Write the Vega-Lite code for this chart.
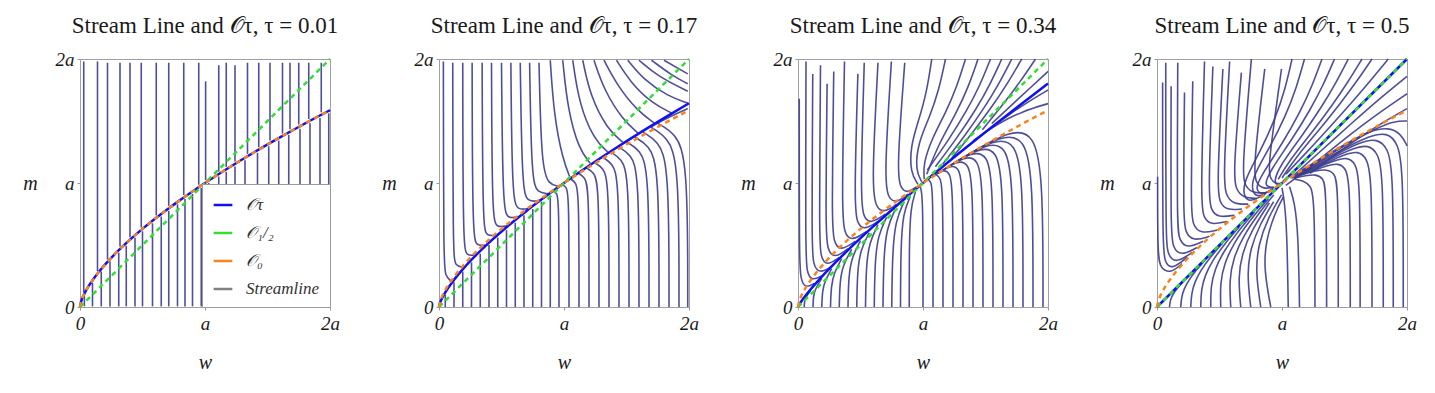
{
"$schema":"https://vega.github.io/schema/vega-lite/v6.json",
"background":"white",
"padding":{"left":22,"top":14,"right":5,"bottom":5},
"bounds":"flush",
"spacing":109,
"config":{
 "view":{"stroke":"#a0a0a0","strokeWidth":1},
 "axis":{"grid":false,"domain":false,"tickColor":"#999","tickSize":3,"labelFont":"Liberation Serif","labelFontSize":19,"labelFontStyle":"italic","labelColor":"#1a1a1a","titleFont":"Liberation Serif","titleFontSize":20,"titleFontStyle":"italic","titleFontWeight":"normal","titleColor":"#1a1a1a"},
 "title":{"font":"Liberation Serif","fontSize":23,"fontWeight":"normal","color":"#1a1a1a","offset":12}
},
"datasets":{
 "o0":[{"w":[0,0.005,0.01,0.02,0.04,0.07,0.1,0.15,0.2,0.3,0.4,0.5,0.6,0.7,0.8,0.9,1,1.2,1.4,1.6,1.8,2],"m":[0,0.029,0.046,0.074,0.117,0.17,0.215,0.282,0.342,0.448,0.543,0.63,0.711,0.788,0.862,0.932,1,1.129,1.252,1.368,1.48,1.587]}],
 "t2":[{"w":[0,0.005,0.01,0.02,0.04,0.07,0.1,0.15,0.2,0.3,0.4,0.5,0.6,0.7,0.8,0.9,1,1.2,1.4,1.6,1.8,2],"m":[0,0.0225,0.037,0.061,0.1,0.149,0.192,0.257,0.316,0.422,0.519,0.609,0.694,0.775,0.852,0.927,1,1.139,1.272,1.4,1.523,1.643]}],
 "t3":[{"w":[0,0.005,0.01,0.02,0.04,0.07,0.1,0.15,0.2,0.3,0.4,0.5,0.6,0.7,0.8,0.9,1,1.2,1.4,1.6,1.8,2],"m":[0,0.011,0.02,0.036,0.065,0.104,0.141,0.199,0.255,0.359,0.459,0.555,0.648,0.738,0.827,0.914,1,1.168,1.331,1.491,1.648,1.802]}],
 "dg":[{"w":[0,2],"m":[0,2]}],
 "r1":[
  {"w":0.03,"a":1.98,"b":0.117},{"w":0.14,"a":1.98,"b":0.29},{"w":0.22,"a":1.97,"b":0.384},{"w":0.32,"a":1.97,"b":0.488},
  {"w":0.4,"a":1.97,"b":0.563},{"w":0.49,"a":1.97,"b":0.641},{"w":0.61,"a":1.97,"b":0.739},{"w":0.71,"a":1.97,"b":0.816},
  {"w":0.83,"a":1.97,"b":0.903},{"w":0.95,"a":1.97,"b":0.986},{"w":1.005,"a":1.82,"b":1.023},{"w":1.11,"a":1.95,"b":1.092},
  {"w":1.17,"a":1.97,"b":1.13},{"w":1.24,"a":1.95,"b":1.174},{"w":1.34,"a":1.97,"b":1.235},{"w":1.43,"a":1.97,"b":1.289},
  {"w":1.52,"a":1.97,"b":1.342},{"w":1.62,"a":1.97,"b":1.399},{"w":1.68,"a":1.97,"b":1.433},{"w":1.75,"a":1.97,"b":1.472},
  {"w":1.83,"a":1.97,"b":1.516},{"w":1.93,"a":1.97,"b":1.57},
  {"w":0.035,"a":0.005,"b":0.087},{"w":0.1,"a":0.005,"b":0.195},{"w":0.17,"a":0.005,"b":0.287},{"w":0.24,"a":0.005,"b":0.366},
  {"w":0.31,"a":0.005,"b":0.438},{"w":0.37,"a":0.005,"b":0.495},{"w":0.44,"a":0.005,"b":0.559},{"w":0.5,"a":0.005,"b":0.61},
  {"w":0.58,"a":0.005,"b":0.675},{"w":0.65,"a":0.005,"b":0.73},{"w":0.71,"a":0.005,"b":0.776},{"w":0.78,"a":0.005,"b":0.827},
  {"w":0.84,"a":0.005,"b":0.87},{"w":0.9,"a":0.005,"b":0.912},{"w":0.97,"a":0.005,"b":0.96},{"w":1.03,"a":0.005,"b":1.0},
  {"w":1.11,"a":0.005,"b":1.052},{"w":1.17,"a":0.005,"b":1.09},{"w":1.24,"a":0.005,"b":1.134},{"w":1.32,"a":0.005,"b":1.183},
  {"w":1.42,"a":0.005,"b":1.243},{"w":1.51,"a":0.005,"b":1.296},{"w":1.59,"a":0.005,"b":1.342},{"w":1.67,"a":0.005,"b":1.388},
  {"w":1.76,"a":0.005,"b":1.438},{"w":1.84,"a":0.005,"b":1.482},{"w":1.92,"a":0.005,"b":1.525},{"w":1.99,"a":0.005,"b":1.562}
 ],
 "s2":[
  {"s":1,"w":[0.035,0.037,0.05,0.095],"m":[1.98,0.36,0.25,0.21]},
  {"s":2,"w":[0.11,0.112,0.13,0.2],"m":[1.97,0.42,0.33,0.32]},
  {"s":3,"w":[0.19,0.192,0.22,0.29],"m":[1.97,0.5,0.41,0.42]},
  {"s":4,"w":[0.265,0.268,0.3,0.37],"m":[1.97,0.58,0.49,0.5]},
  {"s":5,"w":[0.345,0.35,0.38,0.46],"m":[1.97,0.65,0.57,0.58]},
  {"s":6,"w":[0.42,0.425,0.46,0.545],"m":[1.97,0.72,0.64,0.655]},
  {"s":7,"w":[0.5,0.51,0.55,0.635],"m":[1.97,0.8,0.71,0.73]},
  {"s":8,"w":[0.575,0.585,0.63,0.715],"m":[1.97,0.87,0.78,0.795]},
  {"s":9,"w":[0.65,0.665,0.71,0.79],"m":[1.97,0.94,0.85,0.855]},
  {"s":10,"w":[0.725,0.74,0.79,0.87],"m":[1.97,1.02,0.92,0.915]},
  {"s":11,"w":[0.8,0.82,0.88,0.95],"m":[1.97,1.12,0.99,0.975]},
  {"s":12,"w":[0.89,0.92,0.99,1.05],"m":[1.99,1.54,1.19,1.04]},
  {"s":13,"w":[0.99,1.03,1.12,1.21],"m":[1.99,1.59,1.27,1.16]},
  {"s":14,"w":[1.07,1.12,1.24,1.35],"m":[1.99,1.64,1.35,1.25]},
  {"s":15,"w":[1.15,1.21,1.35,1.47],"m":[1.99,1.7,1.43,1.33]},
  {"s":16,"w":[1.24,1.32,1.47,1.59],"m":[1.99,1.75,1.51,1.405]},
  {"s":17,"w":[1.32,1.43,1.59,1.72],"m":[1.99,1.78,1.58,1.485]},
  {"s":18,"w":[1.42,1.54,1.71,1.86],"m":[1.99,1.8,1.64,1.565]},
  {"s":19,"w":[1.51,1.64,1.83,1.99],"m":[1.99,1.83,1.7,1.645]},
  {"s":20,"w":[1.6,1.75,1.99],"m":[1.99,1.86,1.74]},
  {"s":21,"w":[1.7,1.86,1.99],"m":[1.99,1.87,1.8]},
  {"s":22,"w":[1.8,1.99],"m":[1.99,1.88]},
  {"s":23,"w":[1.99,1.9,1.8,1.7],"m":[1.6,1.56,1.51,1.455]},
  {"s":24,"w":[0.05,0.05],"m":[0,0.1]},
  {"s":25,"w":[0.12,0.12],"m":[0,0.2]},
  {"s":26,"w":[0.19,0.19],"m":[0,0.285]},
  {"s":27,"w":[0.26,0.26],"m":[0,0.36]},
  {"s":28,"w":[0.33,0.33],"m":[0,0.43]},
  {"s":29,"w":[0.4,0.4],"m":[0,0.5]},
  {"s":30,"w":[0.47,0.47],"m":[0,0.56]},
  {"s":31,"w":[0.54,0.54],"m":[0,0.62]},
  {"s":32,"w":[0.61,0.61],"m":[0,0.68]},
  {"s":33,"w":[0.68,0.68],"m":[0,0.74]},
  {"s":34,"w":[0.75,0.75],"m":[0,0.79]},
  {"s":35,"w":[0.82,0.82],"m":[0,0.85]},
  {"s":36,"w":[0.89,0.89],"m":[0,0.9]},
  {"s":37,"w":[0.96,0.96,0.94,0.92],"m":[0,0.87,0.92,0.93]},
  {"s":38,"w":[1.04,1.04,1.017,0.992],"m":[0,0.915,0.966,0.984]},
  {"s":39,"w":[1.12,1.12,1.09,1.056],"m":[0,0.943,1.007,1.03]},
  {"s":40,"w":[1.2,1.2,1.164,1.12],"m":[0,0.969,1.047,1.075]},
  {"s":41,"w":[1.28,1.28,1.238,1.184],"m":[0,0.995,1.086,1.118]},
  {"s":42,"w":[1.36,1.36,1.311,1.248],"m":[0,1.02,1.124,1.162]},
  {"s":43,"w":[1.44,1.44,1.385,1.312],"m":[0,1.044,1.16,1.205]},
  {"s":44,"w":[1.52,1.52,1.458,1.376],"m":[0,1.068,1.197,1.247]},
  {"s":45,"w":[1.6,1.6,1.532,1.44],"m":[0,1.09,1.233,1.288]},
  {"s":46,"w":[1.68,1.68,1.606,1.504],"m":[0,1.112,1.269,1.329]},
  {"s":47,"w":[1.76,1.76,1.679,1.568],"m":[0,1.133,1.303,1.37]},
  {"s":48,"w":[1.84,1.84,1.753,1.632],"m":[0,1.153,1.337,1.41]},
  {"s":49,"w":[1.92,1.92,1.826,1.696],"m":[0,1.173,1.37,1.45]},
  {"s":50,"w":[1.99,1.99,1.891,1.752],"m":[0,1.19,1.4,1.48]}
 ],
 "s3":[
  {"s":1,"w":[0.01,0.01,0.02,0.06,0.13],"m":[1.68,0.4,0.22,0.15,0.19]},
  {"s":2,"w":[0.064,0.06,0.07,0.11,0.19],"m":[1.98,0.45,0.28,0.21,0.25]},
  {"s":3,"w":[0.118,0.11,0.12,0.17,0.26],"m":[1.88,0.52,0.34,0.27,0.32]},
  {"s":4,"w":[0.18,0.17,0.18,0.23,0.33],"m":[1.95,0.58,0.4,0.33,0.4]},
  {"s":5,"w":[0.233,0.22,0.235,0.29,0.4],"m":[1.8,0.64,0.46,0.39,0.47]},
  {"s":6,"w":[0.286,0.27,0.285,0.34,0.46],"m":[1.9,0.7,0.52,0.45,0.53]},
  {"s":7,"w":[0.372,0.35,0.37,0.43,0.55],"m":[1.98,0.78,0.59,0.53,0.61]},
  {"s":8,"w":[0.479,0.45,0.47,0.53,0.64],"m":[1.88,0.86,0.67,0.62,0.69]},
  {"s":9,"w":[0.53,0.5,0.52,0.58,0.7],"m":[1.97,0.92,0.72,0.67,0.75]},
  {"s":10,"w":[0.64,0.59,0.62,0.69,0.79],"m":[1.97,1.0,0.8,0.76,0.83]},
  {"s":11,"w":[0.747,0.69,0.72,0.79,0.88],"m":[1.98,1.05,0.87,0.84,0.91]},
  {"s":12,"w":[0.854,0.79,0.82,0.88,0.95],"m":[1.97,1.1,0.95,0.92,0.97]},
  {"s":13,"w":[1.07,1.031,0.966,0.9,0.9,0.96],"m":[2.0,1.739,1.505,1.3,1.08,0.99]},
  {"s":14,"w":[1.18,1.128,1.052,0.959,0.94,0.99],"m":[2.0,1.752,1.528,1.321,1.1,1.01]},
  {"s":15,"w":[1.34,1.269,1.179,1.075,1.0,1.01],"m":[2.0,1.771,1.561,1.366,1.15,1.03]},
  {"s":16,"w":[1.44,1.364,1.27,1.125,1.03],"m":[2.0,1.776,1.57,1.315,1.07]},
  {"s":17,"w":[1.54,1.455,1.353,1.201,1.035],"m":[2.0,1.786,1.587,1.339,1.105]},
  {"s":18,"w":[1.63,1.536,1.429,1.27,1.099],"m":[2.0,1.794,1.601,1.36,1.131]},
  {"s":19,"w":[1.71,1.609,1.496,1.333,1.158],"m":[2.0,1.801,1.614,1.378,1.153]},
  {"s":20,"w":[1.79,1.681,1.562,1.392,1.23],"m":[2.0,1.81,1.629,1.399,1.2]},
  {"s":21,"w":[1.9,1.78,1.653,1.475],"m":[2.0,1.82,1.648,1.43]},
  {"s":22,"w":[2.0,1.85,1.7,1.55],"m":[1.9,1.76,1.62,1.48]},
  {"s":23,"w":[2.0,1.85,1.7,1.55,1.4],"m":[1.75,1.66,1.56,1.45,1.33]},
  {"s":24,"w":[2.0,1.8,1.6,1.4],"m":[1.64,1.58,1.48,1.34]},
  {"s":25,"w":[1.0,1.0,0.985,0.975],"m":[0,0.85,0.95,0.98]},
  {"s":26,"w":[1.08,1.08,1.065,1.039],"m":[0,0.917,1.009,1.031]},
  {"s":27,"w":[1.16,1.16,1.14,1.098],"m":[0,0.932,1.048,1.069]},
  {"s":28,"w":[1.24,1.24,1.216,1.158,1.086],"m":[0,0.946,1.087,1.108,1.057]},
  {"s":29,"w":[1.32,1.32,1.291,1.217,1.115],"m":[0,0.959,1.125,1.145,1.075]},
  {"s":30,"w":[1.4,1.4,1.366,1.276,1.144],"m":[0,0.972,1.161,1.181,1.094]},
  {"s":31,"w":[1.48,1.48,1.441,1.335,1.173],"m":[0,0.983,1.197,1.217,1.112]},
  {"s":32,"w":[1.56,1.56,1.516,1.394,1.202],"m":[0,0.993,1.232,1.253,1.131]},
  {"s":33,"w":[1.64,1.64,1.592,1.454,1.23],"m":[0,1.002,1.266,1.288,1.148]},
  {"s":34,"w":[1.72,1.72,1.667,1.513,1.259],"m":[0,1.011,1.3,1.323,1.166]},
  {"s":35,"w":[1.8,1.8,1.742,1.572,1.288],"m":[0,1.02,1.333,1.357,1.184]},
  {"s":36,"w":[1.88,1.88,1.817,1.631,1.317],"m":[0,1.027,1.365,1.391,1.201]},
  {"s":37,"w":[1.96,1.96,1.892,1.71,1.346],"m":[0,1.034,1.396,1.435,1.219]},
  {"s":38,"w":[0.05,0.052,0.065,0.1],"m":[0,0.05,0.085,0.13]},
  {"s":39,"w":[0.12,0.123,0.14,0.19],"m":[0,0.09,0.15,0.23]},
  {"s":40,"w":[0.19,0.195,0.215,0.27],"m":[0,0.13,0.21,0.31]},
  {"s":41,"w":[0.26,0.265,0.29,0.35],"m":[0,0.17,0.28,0.39]},
  {"s":42,"w":[0.33,0.335,0.36,0.43],"m":[0,0.21,0.34,0.465]},
  {"s":43,"w":[0.4,0.405,0.43,0.5],"m":[0,0.25,0.4,0.535]},
  {"s":44,"w":[0.47,0.475,0.5,0.57],"m":[0,0.29,0.46,0.6]},
  {"s":45,"w":[0.54,0.545,0.57,0.64],"m":[0,0.33,0.52,0.665]},
  {"s":46,"w":[0.61,0.615,0.64,0.71],"m":[0,0.36,0.58,0.725]},
  {"s":47,"w":[0.68,0.685,0.71,0.78],"m":[0,0.4,0.64,0.79]},
  {"s":48,"w":[0.75,0.755,0.78,0.85],"m":[0,0.43,0.7,0.85]},
  {"s":49,"w":[0.82,0.822,0.84,0.9],"m":[0,0.47,0.76,0.895]},
  {"s":50,"w":[0.89,0.89,0.9,0.94],"m":[0,0.5,0.8,0.93]}
 ],
 "s4":[
  {"s":1,"w":[0.005,0.005,0.03,0.11,0.2],"m":[1.05,0.4,0.31,0.27,0.35]},
  {"s":2,"w":[0.045,0.045,0.06,0.12,0.24],"m":[1.81,0.5,0.36,0.3,0.4]},
  {"s":3,"w":[0.07,0.07,0.085,0.15,0.28],"m":[1.97,0.56,0.42,0.35,0.44]},
  {"s":4,"w":[0.113,0.11,0.125,0.19,0.32],"m":[1.78,0.62,0.48,0.41,0.48]},
  {"s":5,"w":[0.166,0.16,0.175,0.24,0.37],"m":[1.97,0.68,0.54,0.47,0.53]},
  {"s":6,"w":[0.22,0.21,0.225,0.29,0.42],"m":[1.73,0.74,0.6,0.53,0.57]},
  {"s":7,"w":[0.286,0.27,0.285,0.35,0.48],"m":[1.82,0.8,0.66,0.59,0.62]},
  {"s":8,"w":[0.38,0.35,0.37,0.43,0.56],"m":[1.98,0.86,0.72,0.66,0.69]},
  {"s":9,"w":[0.447,0.41,0.43,0.49,0.62],"m":[1.94,0.92,0.78,0.72,0.74]},
  {"s":10,"w":[0.527,0.48,0.5,0.56,0.68],"m":[1.92,0.98,0.84,0.78,0.79]},
  {"s":11,"w":[0.581,0.53,0.55,0.61,0.73],"m":[1.98,1.04,0.9,0.83,0.83]},
  {"s":12,"w":[0.675,0.61,0.63,0.69,0.8],"m":[1.89,1.08,0.95,0.88,0.875]},
  {"s":13,"w":[0.755,0.68,0.7,0.76,0.87],"m":[2.0,1.1,0.98,0.92,0.92]},
  {"s":14,"w":[0.862,0.77,0.79,0.85,0.94],"m":[1.92,1.12,1.0,0.95,0.965]},
  {"s":15,"w":[0.996,0.89,0.9,0.95,1.0],"m":[1.92,1.15,1.04,0.99,1.0]},
  {"s":16,"w":[1.08,1.025,0.95,0.827,0.683,0.7,0.76,0.87],"m":[2.0,1.755,1.53,1.253,0.997,0.87,0.85,0.915]},
  {"s":17,"w":[1.18,1.115,1.032,0.9,0.75,0.77,0.83,0.92],"m":[2.0,1.766,1.548,1.28,1.03,0.9,0.89,0.95]},
  {"s":18,"w":[1.32,1.24,1.146,1.003,0.844,0.78,0.84,0.93],"m":[2.0,1.78,1.574,1.318,1.076,0.95,0.9,0.955]},
  {"s":19,"w":[1.42,1.33,1.228,1.076,0.911,0.85,0.93],"m":[2.0,1.79,1.593,1.345,1.109,0.97,0.965]},
  {"s":20,"w":[1.53,1.429,1.317,1.156,0.985,0.93,0.97],"m":[2.0,1.802,1.613,1.374,1.145,1.0,0.985]},
  {"s":21,"w":[1.64,1.527,1.407,1.237,1.059,0.97],"m":[2.0,1.813,1.634,1.404,1.181,1.03]},
  {"s":22,"w":[1.72,1.599,1.472,1.295,1.112,1.0],"m":[2.0,1.821,1.648,1.425,1.208,1.04]},
  {"s":23,"w":[1.85,1.715,1.578,1.39,1.2,1.03],"m":[2.0,1.835,1.672,1.46,1.25,1.07]},
  {"s":24,"w":[2.0,1.78,1.568,1.306,1.07],"m":[1.86,1.68,1.492,1.254,1.04]},
  {"s":25,"w":[2.0,1.763,1.536,1.262,1.03],"m":[1.72,1.557,1.385,1.159,0.98]},
  {"s":26,"w":[2.0,1.747,1.508,1.224],"m":[1.6,1.453,1.292,1.077]},
  {"s":27,"w":[1.97,1.97,1.93,1.84,1.7,1.5,1.3,1.12],"m":[0,1.1,1.32,1.41,1.38,1.28,1.17,1.07]},
  {"s":28,"w":[1.89,1.89,1.85,1.76,1.63,1.45,1.27,1.12],"m":[0,1.08,1.28,1.36,1.33,1.24,1.14,1.065]},
  {"s":29,"w":[1.81,1.81,1.77,1.69,1.57,1.4,1.24,1.11],"m":[0,1.06,1.24,1.31,1.28,1.2,1.12,1.06]},
  {"s":30,"w":[1.72,1.72,1.68,1.61,1.5,1.35,1.21,1.1],"m":[0,1.04,1.2,1.26,1.23,1.16,1.1,1.055]},
  {"s":31,"w":[1.625,1.625,1.59,1.52,1.42,1.3,1.18,1.09],"m":[0,1.02,1.16,1.21,1.18,1.13,1.08,1.05]},
  {"s":32,"w":[1.546,1.546,1.51,1.45,1.36,1.25,1.15,1.08],"m":[0,1.0,1.12,1.16,1.14,1.1,1.065,1.045]},
  {"s":33,"w":[1.45,1.45,1.42,1.36,1.27,1.17,1.08],"m":[0,0.98,1.08,1.11,1.1,1.07,1.04]},
  {"s":34,"w":[1.357,1.355,1.33,1.27,1.19,1.1],"m":[0,0.95,1.04,1.07,1.06,1.04]},
  {"s":35,"w":[1.264,1.26,1.23,1.17,1.1],"m":[0,0.88,0.98,1.02,1.03]},
  {"s":36,"w":[1.14,1.13,1.1,1.06],"m":[0,0.6,0.85,0.97]},
  {"s":37,"w":[1.05,1.04,1.02,1.0],"m":[0,0.6,0.85,0.96]},
  {"s":38,"w":[2.0,1.9,1.75,1.55,1.35,1.15],"m":[1.5,1.5,1.44,1.33,1.21,1.09]},
  {"s":39,"w":[2.0,1.95,1.85,1.7,1.5,1.3,1.12],"m":[1.3,1.4,1.45,1.42,1.31,1.19,1.08]},
  {"s":40,"w":[0.19,0.196,0.216,0.252,0.31,0.383],"m":[0,0.08,0.146,0.213,0.293,0.376]},
  {"s":41,"w":[0.27,0.276,0.302,0.349,0.428,0.526],"m":[0,0.112,0.202,0.295,0.404,0.516]},
  {"s":42,"w":[0.35,0.353,0.384,0.441,0.538,0.658],"m":[0,0.141,0.255,0.371,0.506,0.646]},
  {"s":43,"w":[0.43,0.43,0.463,0.529,0.64,0.78],"m":[0,0.169,0.305,0.442,0.601,0.765]},
  {"s":44,"w":[0.51,0.505,0.539,0.61,0.734,0.891],"m":[0,0.195,0.351,0.508,0.688,0.873]},
  {"s":45,"w":[0.59,0.578,0.611,0.687,0.821,0.934],"m":[0,0.22,0.394,0.568,0.767,0.904]},
  {"s":46,"w":[0.67,0.649,0.681,0.759,0.899],"m":[0,0.243,0.434,0.623,0.839]},
  {"s":47,"w":[0.75,0.72,0.747,0.826,0.933],"m":[0,0.265,0.472,0.674,0.849]},
  {"s":48,"w":[0.83,0.788,0.811,0.888,0.996],"m":[0,0.285,0.505,0.72,0.904]},
  {"s":49,"w":[0.91,0.855,0.87,0.944,1.012],"m":[0,0.303,0.536,0.76,0.889]},
  {"s":50,"w":[0.1,0.104,0.116,0.136,0.169,0.209],"m":[0,0.043,0.079,0.116,0.159,0.205]}
 ]
},
"hconcat":[
 {"width":250,"height":248,"title":"Stream Line and 𝒪τ, τ = 0.01",
  "layer":[
   {"data":{"name":"r1"},"mark":{"type":"rule","color":"#3c3c8e","strokeWidth":1.6,"opacity":0.9},
    "encoding":{"x":{"field":"w","type":"quantitative","scale":{"domain":[0,2],"nice":false},"axis":{"values":[0,1,2],"labelExpr":"datum.value==0?'0':datum.value==1?'a':'2a'","title":"w","labelPadding":4,"titlePadding":19,"labelFlush":false}},
     "y":{"field":"a","type":"quantitative","scale":{"domain":[0,2],"nice":false},"axis":{"values":[0,1,2],"labelExpr":"datum.value==0?'0':datum.value==1?'a':'2a'","title":"m","titleAngle":0,"titleX":-50,"titleY":124,"titleAlign":"center","titleBaseline":"middle","labelPadding":3,"labelFlush":false}},
     "y2":{"field":"b"}}},
   {"data":{"name":"o0"},"transform":[{"flatten":["w","m"]}],"mark":{"type":"line","strokeWidth":2.5,"interpolate":"monotone"},
    "encoding":{"x":{"field":"w","type":"quantitative"},"y":{"field":"m","type":"quantitative"},
     "color":{"datum":"𝒪τ","scale":{"domain":["𝒪τ","𝒪₁/₂","𝒪₀","Streamline"],"range":["#1010f5","#33dd33","#f7841e","#808080"]},
      "legend":{"orient":"bottom-right","offset":0,"title":null,"symbolType":"stroke","symbolStrokeWidth":2.5,"symbolSize":350,"symbolDash":[1,0],"labelFont":"Liberation Serif","labelFontSize":17,"labelFontStyle":"italic","labelColor":"#333","fillColor":"white","strokeColor":"#999","padding":10,"rowPadding":9,"labelOffset":12}}}},
   {"data":{"name":"dg"},"transform":[{"flatten":["w","m"]}],"mark":{"type":"line","strokeWidth":2.5,"strokeDash":[5,4]},
    "encoding":{"x":{"field":"w","type":"quantitative"},"y":{"field":"m","type":"quantitative"},
     "color":{"datum":"𝒪₁/₂","scale":{"domain":["𝒪τ","𝒪₁/₂","𝒪₀","Streamline"],"range":["#1010f5","#33dd33","#f7841e","#808080"]}}}},
   {"data":{"name":"o0"},"transform":[{"flatten":["w","m"]}],"mark":{"type":"line","strokeWidth":2.5,"strokeDash":[5,4],"interpolate":"monotone"},
    "encoding":{"x":{"field":"w","type":"quantitative"},"y":{"field":"m","type":"quantitative"},
     "color":{"datum":"𝒪₀","scale":{"domain":["𝒪τ","𝒪₁/₂","𝒪₀","Streamline"],"range":["#1010f5","#33dd33","#f7841e","#808080"]}}}}
  ]},
 {"width":250,"height":248,"title":"Stream Line and 𝒪τ, τ = 0.17",
  "layer":[
   {"data":{"name":"s2"},"transform":[{"flatten":["w","m"]}],"mark":{"type":"line","color":"#3c3c8e","strokeWidth":1.6,"opacity":0.9,"interpolate":"basis"},
    "encoding":{"x":{"field":"w","type":"quantitative","scale":{"domain":[0,2],"nice":false},"axis":{"values":[0,1,2],"labelExpr":"datum.value==0?'0':datum.value==1?'a':'2a'","title":"w","labelPadding":4,"titlePadding":19,"labelFlush":false}},
     "y":{"field":"m","type":"quantitative","scale":{"domain":[0,2],"nice":false},"axis":{"values":[0,1,2],"labelExpr":"datum.value==0?'0':datum.value==1?'a':'2a'","title":"m","titleAngle":0,"titleX":-50,"titleY":124,"titleAlign":"center","titleBaseline":"middle","labelPadding":3,"labelFlush":false}},
     "detail":{"field":"s","type":"nominal"},"order":{"value":null}}},
   {"data":{"name":"t2"},"transform":[{"flatten":["w","m"]}],"mark":{"type":"line","strokeWidth":2.5,"interpolate":"monotone"},
    "encoding":{"x":{"field":"w","type":"quantitative"},"y":{"field":"m","type":"quantitative"},
     "color":{"datum":"𝒪τ","scale":{"domain":["𝒪τ","𝒪₁/₂","𝒪₀","Streamline"],"range":["#1010f5","#33dd33","#f7841e","#808080"]},"legend":null}}},
   {"data":{"name":"dg"},"transform":[{"flatten":["w","m"]}],"mark":{"type":"line","strokeWidth":2.5,"strokeDash":[5,4]},
    "encoding":{"x":{"field":"w","type":"quantitative"},"y":{"field":"m","type":"quantitative"},
     "color":{"datum":"𝒪₁/₂","scale":{"domain":["𝒪τ","𝒪₁/₂","𝒪₀","Streamline"],"range":["#1010f5","#33dd33","#f7841e","#808080"]},"legend":null}}},
   {"data":{"name":"o0"},"transform":[{"flatten":["w","m"]}],"mark":{"type":"line","strokeWidth":2.5,"strokeDash":[5,4],"interpolate":"monotone"},
    "encoding":{"x":{"field":"w","type":"quantitative"},"y":{"field":"m","type":"quantitative"},
     "color":{"datum":"𝒪₀","scale":{"domain":["𝒪τ","𝒪₁/₂","𝒪₀","Streamline"],"range":["#1010f5","#33dd33","#f7841e","#808080"]},"legend":null}}}
  ]},
 {"width":250,"height":248,"title":"Stream Line and 𝒪τ, τ = 0.34",
  "layer":[
   {"data":{"name":"s3"},"transform":[{"flatten":["w","m"]}],"mark":{"type":"line","color":"#3c3c8e","strokeWidth":1.6,"opacity":0.9,"interpolate":"basis"},
    "encoding":{"x":{"field":"w","type":"quantitative","scale":{"domain":[0,2],"nice":false},"axis":{"values":[0,1,2],"labelExpr":"datum.value==0?'0':datum.value==1?'a':'2a'","title":"w","labelPadding":4,"titlePadding":19,"labelFlush":false}},
     "y":{"field":"m","type":"quantitative","scale":{"domain":[0,2],"nice":false},"axis":{"values":[0,1,2],"labelExpr":"datum.value==0?'0':datum.value==1?'a':'2a'","title":"m","titleAngle":0,"titleX":-50,"titleY":124,"titleAlign":"center","titleBaseline":"middle","labelPadding":3,"labelFlush":false}},
     "detail":{"field":"s","type":"nominal"},"order":{"value":null}}},
   {"data":{"name":"t3"},"transform":[{"flatten":["w","m"]}],"mark":{"type":"line","strokeWidth":2.5,"interpolate":"monotone"},
    "encoding":{"x":{"field":"w","type":"quantitative"},"y":{"field":"m","type":"quantitative"},
     "color":{"datum":"𝒪τ","scale":{"domain":["𝒪τ","𝒪₁/₂","𝒪₀","Streamline"],"range":["#1010f5","#33dd33","#f7841e","#808080"]},"legend":null}}},
   {"data":{"name":"dg"},"transform":[{"flatten":["w","m"]}],"mark":{"type":"line","strokeWidth":2.5,"strokeDash":[5,4]},
    "encoding":{"x":{"field":"w","type":"quantitative"},"y":{"field":"m","type":"quantitative"},
     "color":{"datum":"𝒪₁/₂","scale":{"domain":["𝒪τ","𝒪₁/₂","𝒪₀","Streamline"],"range":["#1010f5","#33dd33","#f7841e","#808080"]},"legend":null}}},
   {"data":{"name":"o0"},"transform":[{"flatten":["w","m"]}],"mark":{"type":"line","strokeWidth":2.5,"strokeDash":[5,4],"interpolate":"monotone"},
    "encoding":{"x":{"field":"w","type":"quantitative"},"y":{"field":"m","type":"quantitative"},
     "color":{"datum":"𝒪₀","scale":{"domain":["𝒪τ","𝒪₁/₂","𝒪₀","Streamline"],"range":["#1010f5","#33dd33","#f7841e","#808080"]},"legend":null}}}
  ]},
 {"width":250,"height":248,"title":"Stream Line and 𝒪τ, τ = 0.5",
  "layer":[
   {"data":{"name":"s4"},"transform":[{"flatten":["w","m"]}],"mark":{"type":"line","color":"#3c3c8e","strokeWidth":1.6,"opacity":0.9,"interpolate":"basis"},
    "encoding":{"x":{"field":"w","type":"quantitative","scale":{"domain":[0,2],"nice":false},"axis":{"values":[0,1,2],"labelExpr":"datum.value==0?'0':datum.value==1?'a':'2a'","title":"w","labelPadding":4,"titlePadding":19,"labelFlush":false}},
     "y":{"field":"m","type":"quantitative","scale":{"domain":[0,2],"nice":false},"axis":{"values":[0,1,2],"labelExpr":"datum.value==0?'0':datum.value==1?'a':'2a'","title":"m","titleAngle":0,"titleX":-50,"titleY":124,"titleAlign":"center","titleBaseline":"middle","labelPadding":3,"labelFlush":false}},
     "detail":{"field":"s","type":"nominal"},"order":{"value":null}}},
   {"data":{"name":"dg"},"transform":[{"flatten":["w","m"]}],"mark":{"type":"line","strokeWidth":2.5},
    "encoding":{"x":{"field":"w","type":"quantitative"},"y":{"field":"m","type":"quantitative"},
     "color":{"datum":"𝒪τ","scale":{"domain":["𝒪τ","𝒪₁/₂","𝒪₀","Streamline"],"range":["#1010f5","#33dd33","#f7841e","#808080"]},"legend":null}}},
   {"data":{"name":"dg"},"transform":[{"flatten":["w","m"]}],"mark":{"type":"line","strokeWidth":2.5,"strokeDash":[5,4]},
    "encoding":{"x":{"field":"w","type":"quantitative"},"y":{"field":"m","type":"quantitative"},
     "color":{"datum":"𝒪₁/₂","scale":{"domain":["𝒪τ","𝒪₁/₂","𝒪₀","Streamline"],"range":["#1010f5","#33dd33","#f7841e","#808080"]},"legend":null}}},
   {"data":{"name":"o0"},"transform":[{"flatten":["w","m"]}],"mark":{"type":"line","strokeWidth":2.5,"strokeDash":[5,4],"interpolate":"monotone"},
    "encoding":{"x":{"field":"w","type":"quantitative"},"y":{"field":"m","type":"quantitative"},
     "color":{"datum":"𝒪₀","scale":{"domain":["𝒪τ","𝒪₁/₂","𝒪₀","Streamline"],"range":["#1010f5","#33dd33","#f7841e","#808080"]},"legend":null}}}
  ]}
],
"resolve":{"scale":{"color":"independent"},"legend":{"color":"independent"}}
}
